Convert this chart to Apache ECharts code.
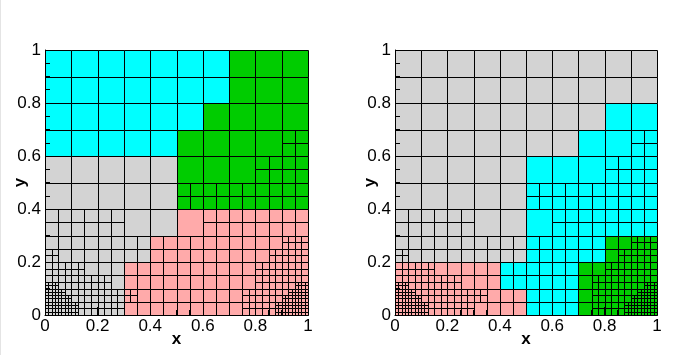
<!DOCTYPE html>
<html>
<head>
<meta charset="utf-8">
<script src="https://cdn.jsdelivr.net/npm/echarts@6/dist/echarts.min.js"></script>
<style>html,body{margin:0;background:#fff}#main{width:700px;height:355px}</style>
</head>
<body>
<div id="main"></div>
<script>
// colours of the cells
const palette = ['#d3d3d3', '#00ffff', '#00cc00', '#ffaaaa']
const GRAY = 0, CYAN = 1, GREEN = 2, PINK = 3

// refinement zones: [x0, y0, x1, y1, level]  (level 0 = 0.1 cells, each level halves)
const refineLeft = [
  [0, 0, 1, 0.3, 1], [0, 0.3, 0.3, 0.4, 1], [0.6, 0.3, 1, 0.4, 1], [0.5, 0.4, 1, 0.5, 1], [0.8, 0.5, 1, 0.6, 1], [0.9, 0.6, 1, 0.7, 1],
  [0, 0.2, 0.05, 0.25, 2], [0, 0.15, 0.15, 0.2, 2], [0, 0.1, 0.25, 0.15, 2], [0, 0, 0.3, 0.1, 2], [0.3, 0.05, 0.35, 0.1, 2],
  [0.9, 0.25, 1, 0.3, 2], [0.85, 0.2, 1, 0.25, 2], [0.8, 0.1, 1, 0.2, 2], [0.75, 0, 1, 0.1, 2],
  [0, 0.1, 0.05, 0.125, 3], [0, 0.075, 0.075, 0.1, 3], [0, 0.05, 0.1, 0.075, 3], [0, 0, 0.125, 0.05, 3],
  [0.95, 0.1, 1, 0.125, 3], [0.925, 0.075, 1, 0.1, 3], [0.9, 0.05, 1, 0.075, 3], [0.875, 0, 1, 0.05, 3]
]
const refineRight = [
  [0, 0, 1, 0.3, 1], [0, 0.3, 0.3, 0.4, 1], [0.6, 0.3, 1, 0.4, 1], [0.5, 0.4, 1, 0.5, 1], [0.8, 0.5, 1, 0.6, 1], [0.9, 0.6, 1, 0.7, 1],
  [0, 0.2, 0.05, 0.25, 2], [0, 0.15, 0.15, 0.2, 2], [0, 0.1, 0.25, 0.15, 2], [0, 0, 0.3, 0.1, 2], [0.3, 0.05, 0.35, 0.1, 2],
  [0.9, 0.25, 1, 0.3, 2], [0.85, 0.2, 1, 0.25, 2], [0.8, 0.15, 1, 0.2, 2], [0.75, 0, 1, 0.15, 2],
  [0, 0.1, 0.05, 0.125, 3], [0, 0.075, 0.075, 0.1, 3], [0, 0.05, 0.1, 0.075, 3], [0, 0, 0.125, 0.05, 3],
  [0.95, 0.1, 1, 0.125, 3], [0.925, 0.075, 1, 0.1, 3], [0.9, 0.05, 1, 0.075, 3], [0.875, 0, 1, 0.05, 3]
]

// colour zones: [x0, y0, x1, y1, colour]  (everything else is gray)
const zonesLeft = [
  [0, 0.8, 0.7, 1, CYAN], [0, 0.7, 0.6, 0.8, CYAN], [0, 0.6, 0.5, 0.7, CYAN],
  [0.7, 0.8, 1, 1, GREEN], [0.6, 0.7, 1, 0.8, GREEN], [0.5, 0.4, 1, 0.7, GREEN],
  [0.5, 0.3, 1, 0.4, PINK], [0.4, 0.2, 1, 0.3, PINK], [0.3, 0, 1, 0.2, PINK]
]
const zonesRight = [
  [0.8, 0.7, 1, 0.8, CYAN], [0.7, 0.6, 1, 0.7, CYAN], [0.5, 0.3, 1, 0.6, CYAN], [0.5, 0.2, 0.8, 0.3, CYAN], [0.4, 0.1, 0.7, 0.2, CYAN], [0.5, 0, 0.7, 0.1, CYAN],
  [0.8, 0.2, 1, 0.3, GREEN], [0.7, 0, 1, 0.2, GREEN],
  [0, 0, 0.4, 0.2, PINK], [0.4, 0, 0.5, 0.1, PINK]
]

const baseCells = 10

//- quadtree cells from the zones
function buildCells(refine, zones){
  let out = []
  const eps = 1e-9
  function colourAt(cx, cy){
    for (let z of zones) if (cx > z[0] && cx < z[2] && cy > z[1] && cy < z[3]) return z[4]
    return GRAY
  }
  function split(x, y, s, lvl){
    let deeper = refine.some(r => r[4] > lvl && r[0] < x + s - eps && r[2] > x + eps && r[1] < y + s - eps && r[3] > y + eps)
    if (deeper){
      let h = s / 2
      split(x, y, h, lvl + 1); split(x + h, y, h, lvl + 1); split(x, y + h, h, lvl + 1); split(x + h, y + h, h, lvl + 1)
    } else out.push([x, y, x + s, y + s, colourAt(x + s / 2, y + s / 2)])
  }
  for (let i = 0; i < baseCells; i++) for (let j = 0; j < baseCells; j++) split(i / baseCells, j / baseCells, 1 / baseCells, 0)
  return out
}

const font = 'Liberation Sans'

function xAxis(gi){
  return {type: 'value', gridIndex: gi, min: 0, max: 1, interval: 0.2, z: 5,
    name: 'x', nameLocation: 'middle', nameGap: 16, nameMoveOverlap: false,
    nameTextStyle: {fontSize: 17, fontWeight: 'bold', color: '#000', fontFamily: font},
    axisLine: {lineStyle: {color: '#000'}},
    axisTick: {inside: true, length: 8, lineStyle: {color: '#000'}},
    minorTick: {show: true, splitNumber: 4, length: 5, lineStyle: {color: '#000'}},
    axisLabel: {margin: 3, fontSize: 17, color: '#000', fontFamily: font},
    splitLine: {show: false}}
}
function yAxis(gi){
  return {type: 'value', gridIndex: gi, min: 0, max: 1, interval: 0.2, z: 5,
    name: 'y', nameLocation: 'middle', nameGap: 16, nameMoveOverlap: false,
    nameTextStyle: {fontSize: 17, fontWeight: 'bold', color: '#000', fontFamily: font},
    axisLine: {lineStyle: {color: '#000'}},
    axisTick: {inside: true, length: 8, lineStyle: {color: '#000'}},
    minorTick: {show: true, splitNumber: 4, length: 5, lineStyle: {color: '#000'}},
    axisLabel: {margin: 4, fontSize: 17, color: '#000', fontFamily: font},
    splitLine: {show: false}}
}

function meshSeries(gi, cells){
  return {type: 'custom', xAxisIndex: gi, yAxisIndex: gi, data: cells, silent: true, clip: false,
    renderItem: function(params, api){
      let a = api.coord([api.value(0), api.value(3)])
      let b = api.coord([api.value(2), api.value(1)])
      let x0 = Math.round(a[0]), y0 = Math.round(a[1]), x1 = Math.round(b[0]), y1 = Math.round(b[1])
      return {type: 'rect', shape: {x: x0 + 0.5, y: y0 + 0.5, width: x1 - x0, height: y1 - y0},
        style: {fill: palette[api.value(4)], stroke: '#000', lineWidth: 1}}
    }}
}

let chart = echarts.init(document.getElementById('main'))
chart.setOption({
  animation: false,
  backgroundColor: '#fff',
  grid: [
    {left: 45, top: 50, width: 263, height: 265, outerBoundsMode: 'none', containLabel: false},
    {left: 395, top: 50, width: 262, height: 265, outerBoundsMode: 'none', containLabel: false}
  ],
  xAxis: [xAxis(0), xAxis(1)],
  yAxis: [yAxis(0), yAxis(1)],
  graphic: [{type: 'rect', shape: {x: 0, y: 0, width: 1, height: 355}, style: {fill: '#e4e4e4'}}],
  series: [meshSeries(0, buildCells(refineLeft, zonesLeft)), meshSeries(1, buildCells(refineRight, zonesRight))]
})
</script>
</body>
</html>
